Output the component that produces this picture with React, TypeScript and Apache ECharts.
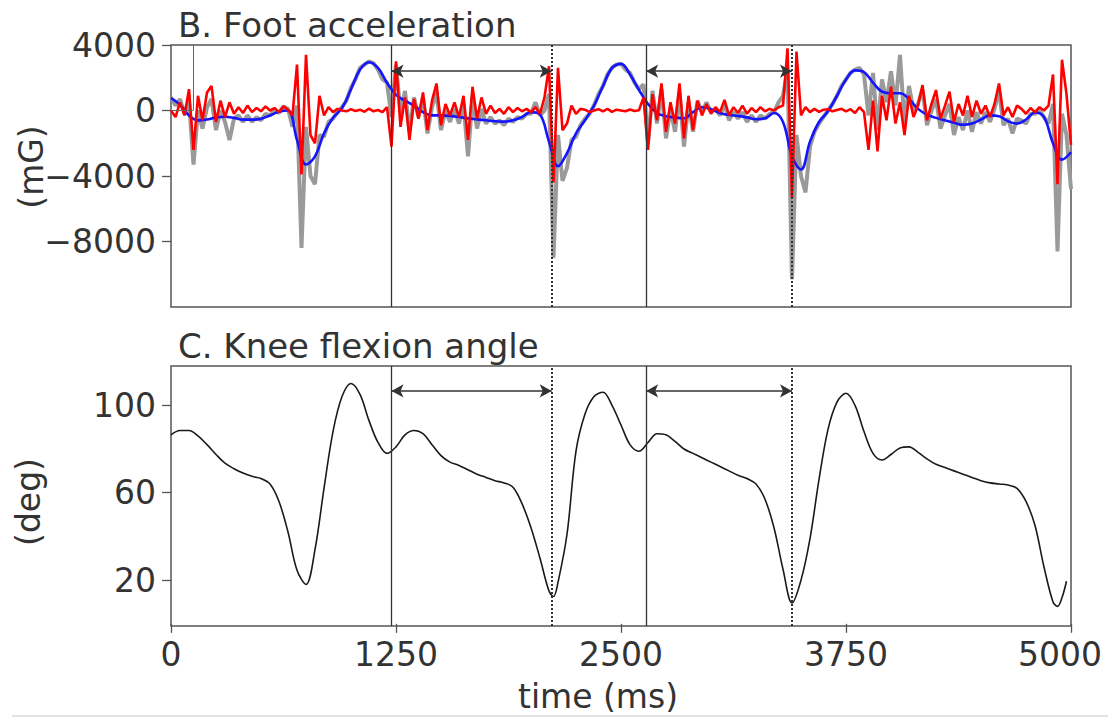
import React, { useEffect, useRef } from "react";
import * as echarts from "echarts";

const FONT = "'DejaVu Sans', sans-serif";

const titleTop = "B. Foot acceleration";
const titleBottom = "C. Knee flexion angle";
const accUnit = "(mG)";
const angleUnit = "(deg)";
const timeLabel = "time (ms)";

const accTickValues = [4000, 0, -4000, -8000];
const angleTickValues = [100, 60, 20];
const timeInterval = 1250;

// event markers (ms)
const heelLines = [1225, 2640];
const toeLines = [2115, 3450];
const strideSpans: [number, number][] = [[1225, 2115], [2640, 3450]];
const accArrowLevel = 2400;
const angleArrowLevel = 106.6;

// raw foot acceleration (grey)
const rawAcc: [number, number][] = [
  [0, 800], [25, 300], [50, 700], [75, -200], [100, 600], [125, -3300], [150, 0], [175, -1100], [200, 200], [225, 700],
  [250, -1200], [275, 0], [300, -700], [325, -1800], [350, -500], [375, -300], [400, -700], [425, -300], [450, -700], [475, -400],
  [500, -600], [525, -200], [550, -300], [575, 0], [600, -150], [625, 250], [650, 100], [675, -1000], [700, 300], [725, -8400],
  [750, -1000], [775, -4000], [800, -4500], [825, -1500], [850, -1600], [875, -700], [900, -500], [925, -100], [950, 200], [975, 600],
  [1000, 1400], [1025, 1900], [1050, 2600], [1075, 2800], [1100, 3000], [1125, 2900], [1150, 2500], [1175, 1900], [1200, 1700], [1225, -400],
  [1250, 2800], [1275, -200], [1300, 1200], [1325, -1300], [1350, 800], [1375, -400], [1400, 800], [1425, -1400], [1450, 200], [1475, 1100],
  [1500, -1200], [1525, 0], [1550, -700], [1575, 100], [1600, -800], [1625, 400], [1650, -2800], [1675, 800], [1700, -1100], [1725, 100],
  [1750, -800], [1775, -400], [1800, -800], [1825, -600], [1850, -900], [1875, -500], [1900, -700], [1925, -400], [1950, -500], [1975, -200],
  [2000, -200], [2025, 500], [2050, -300], [2075, 0], [2100, 1000], [2125, -9000], [2150, -1500], [2175, -4300], [2200, -3500], [2225, -1800],
  [2250, -1600], [2275, -900], [2300, -500], [2325, -200], [2350, 300], [2375, 1000], [2400, 1500], [2425, 2200], [2450, 2600], [2475, 2800],
  [2500, 2850], [2525, 2500], [2550, 2300], [2575, 1700], [2600, 1300], [2625, 1600], [2650, -2000], [2675, 1200], [2700, -800], [2725, 1300],
  [2750, -1700], [2775, 100], [2800, -1300], [2825, 1100], [2850, -2200], [2875, 500], [2900, -1300], [2925, 600], [2950, -100], [2975, 500],
  [3000, -100], [3025, 100], [3050, -300], [3075, 400], [3100, -600], [3125, -100], [3150, -500], [3175, -100], [3200, -700], [3225, -300],
  [3250, -700], [3275, -300], [3300, -500], [3325, -200], [3350, -100], [3375, 500], [3400, 900], [3425, 2500], [3450, -10300], [3475, -1500],
  [3500, -4000], [3525, -5000], [3550, -2200], [3575, -1300], [3600, -800], [3625, -400], [3650, 0], [3675, 400], [3700, 900], [3725, 1500],
  [3750, 1900], [3775, 2300], [3800, 2500], [3825, 2600], [3850, 2200], [3875, -300], [3900, 2300], [3925, -1200], [3950, 1900], [3975, 500],
  [4000, 2400], [4025, 300], [4050, 3400], [4075, -800], [4100, 1500], [4125, 0], [4150, 400], [4175, 1300], [4200, -900], [4225, 0],
  [4250, 700], [4275, -1100], [4300, -300], [4325, 400], [4350, -1500], [4375, -400], [4400, -1200], [4425, 0], [4450, -1300], [4475, -100],
  [4500, -800], [4525, -100], [4550, -700], [4575, 100], [4600, 1200], [4625, -900], [4650, -500], [4675, -1400], [4700, -500], [4725, -600],
  [4750, -800], [4775, -200], [4800, -200], [4825, 0], [4850, -400], [4875, -800], [4900, 400], [4925, -8600], [4950, -200], [4975, -1500],
  [5000, -4800],
];

// low-pass foot acceleration (blue)
const smoothAcc: [number, number][] = [
  [0, 750], [50, 350], [100, -300], [150, -600], [200, -550], [250, -420], [300, -380], [350, -450], [400, -560], [450, -560],
  [500, -500], [550, -300], [600, -80], [650, 0], [700, -1800], [750, -3300], [800, -2800], [850, -1400], [900, -450], [950, 150],
  [1000, 1300], [1050, 2500], [1100, 2950], [1150, 2600], [1200, 1700], [1250, 950], [1300, 600], [1350, 300], [1400, -100], [1450, -300],
  [1500, -300], [1550, -330], [1600, -400], [1650, -480], [1700, -540], [1750, -600], [1800, -660], [1850, -680], [1900, -600], [1950, -400],
  [2000, -100], [2050, -250], [2100, -1900], [2150, -3400], [2200, -2600], [2250, -1400], [2300, -600], [2350, 300], [2400, 1500], [2450, 2600],
  [2500, 2850], [2550, 2200], [2600, 1250], [2650, 400], [2700, -150], [2750, -350], [2800, -430], [2850, -470], [2900, -100], [2950, 200],
  [3000, 80], [3050, -150], [3100, -280], [3150, -330], [3200, -420], [3250, -530], [3300, -480], [3350, -150], [3400, -700], [3450, -2800],
  [3500, -3600], [3550, -1900], [3600, -700], [3650, -50], [3700, 900], [3750, 1900], [3800, 2450], [3850, 2350], [3900, 1700], [3950, 1150],
  [4000, 1050], [4050, 1050], [4100, 700], [4150, 100], [4200, -250], [4250, -450], [4300, -600], [4350, -750], [4400, -870], [4450, -800],
  [4500, -550], [4550, -300], [4600, -350], [4650, -650], [4700, -800], [4750, -550], [4800, -120], [4850, -400], [4900, -2000], [4950, -3000],
  [5000, -2550],
];

// high-pass foot acceleration (red)
const hpAcc: [number, number][] = [
  [0, 0], [25, -400], [50, 500], [75, -300], [100, 1300], [125, -2400], [150, 900], [175, -600], [200, 1100], [225, 1500],
  [250, -700], [275, 600], [300, -400], [325, 500], [350, -200], [375, 200], [400, -150], [425, 300], [450, -100], [475, 150],
  [500, -50], [525, 250], [550, 0], [575, 150], [600, -100], [625, 250], [650, 50], [675, -300], [700, 2800], [725, -3900],
  [750, 3400], [775, -1500], [800, -2000], [825, 900], [850, -300], [875, 200], [900, -100], [925, 100], [950, 0], [975, -50],
  [1000, 80], [1025, -30], [1050, 50], [1075, -80], [1100, 120], [1125, -50], [1150, 30], [1175, -100], [1200, 200], [1225, -2200],
  [1250, 3000], [1275, -1000], [1300, 800], [1325, -1800], [1350, 700], [1375, -500], [1400, 1100], [1425, -1200], [1450, 600], [1475, 1650],
  [1500, -900], [1525, 400], [1550, -300], [1575, 500], [1600, -400], [1625, 900], [1650, -1800], [1675, 1450], [1700, -500], [1725, 800],
  [1750, -200], [1775, 300], [1800, -150], [1825, 100], [1850, -200], [1875, 200], [1900, -100], [1925, 150], [1950, -50], [1975, 100],
  [2000, -100], [2025, 200], [2050, -200], [2075, 800], [2100, 2700], [2125, -4400], [2150, 2600], [2175, -1200], [2200, -800], [2225, 300],
  [2250, -200], [2275, 100], [2300, 50], [2325, -100], [2350, 0], [2375, 80], [2400, -50], [2425, 100], [2450, -80], [2475, 50],
  [2500, 0], [2525, -50], [2550, 60], [2575, -30], [2600, 20], [2625, 800], [2650, -2400], [2675, 1000], [2700, -600], [2725, 1650],
  [2750, -1300], [2775, 500], [2800, -800], [2825, 1650], [2850, -1700], [2875, 900], [2900, -1200], [2925, 600], [2950, -300], [2975, 400],
  [3000, -200], [3025, 200], [3050, -100], [3075, 650], [3100, -300], [3125, 200], [3150, -150], [3175, 300], [3200, -200], [3225, 150],
  [3250, -100], [3275, 200], [3300, -50], [3325, 100], [3350, 0], [3375, 200], [3400, 300], [3425, 3800], [3450, -5300], [3475, 3600],
  [3500, -300], [3525, 200], [3550, -100], [3575, 100], [3600, -80], [3625, 50], [3650, 80], [3675, -50], [3700, 30], [3725, 100],
  [3750, -50], [3775, 80], [3800, -150], [3825, 200], [3850, -100], [3875, -2400], [3900, 600], [3925, -2500], [3950, 900], [3975, -600],
  [4000, 1450], [4025, -800], [4050, 500], [4075, -1500], [4100, 900], [4125, -400], [4150, 300], [4175, 1550], [4200, -600], [4225, 400],
  [4250, 1250], [4275, -500], [4300, 300], [4325, 1150], [4350, -700], [4375, 400], [4400, -300], [4425, 900], [4450, -400], [4475, 600],
  [4500, -200], [4525, 300], [4550, -400], [4575, 400], [4600, 1650], [4625, -300], [4650, 200], [4675, -400], [4700, 300], [4725, 100],
  [4750, -200], [4775, 150], [4800, -100], [4825, 200], [4850, 0], [4875, 300], [4900, 2200], [4925, -4500], [4950, 3100], [4975, 1000],
  [5000, -2100],
];

// knee flexion angle (deg)
const kneeAngle: [number, number][] = [
  [0, 86.5], [50, 88.5], [100, 88.5], [150, 86], [200, 82], [250, 77.5], [300, 73.5], [350, 71], [400, 69], [450, 67.5],
  [500, 66.5], [550, 64], [600, 56], [650, 42], [700, 24.5], [750, 18], [800, 34], [850, 62], [900, 88], [950, 104],
  [1000, 110], [1050, 105], [1100, 93], [1150, 83], [1200, 78], [1250, 81], [1300, 86.5], [1350, 88.5], [1400, 87], [1450, 82],
  [1500, 77], [1550, 74], [1600, 72.5], [1650, 70.5], [1700, 68.5], [1750, 67], [1800, 65.5], [1850, 64.5], [1900, 62.5], [1950, 55],
  [2000, 44], [2050, 30], [2100, 15], [2125, 12.5], [2150, 19], [2200, 41], [2250, 79], [2300, 96], [2350, 104], [2400, 106], [2450, 100],
  [2500, 91], [2550, 82], [2600, 79], [2650, 83], [2700, 87], [2750, 86.5], [2800, 83.5], [2850, 80], [2900, 78], [2950, 76],
  [3000, 74], [3050, 72], [3100, 70], [3150, 68], [3200, 66.5], [3250, 64], [3300, 57], [3350, 44], [3400, 25], [3450, 9.5],
  [3500, 20], [3550, 39], [3600, 66], [3650, 89], [3700, 101.5], [3750, 105.5], [3800, 100], [3850, 88], [3900, 78], [3950, 75],
  [4000, 77.5], [4050, 80.5], [4100, 81], [4150, 78.5], [4200, 75.5], [4250, 73], [4300, 71.5], [4350, 70], [4400, 68.5], [4450, 67],
  [4500, 65.5], [4550, 64.5], [4600, 64], [4650, 63.5], [4700, 62], [4750, 56], [4800, 45], [4850, 26], [4900, 10], [4925, 8],
  [4950, 12], [4975, 19.5],
];

const TEXT = "#333";
const AX = "#555";

function eventLines(withBracket: boolean) {
  const data: any[] = [];
  heelLines.forEach((t) => data.push({ xAxis: t, lineStyle: { type: "solid", width: 1.3, color: "#333" } }));
  toeLines.forEach((t) => data.push({ xAxis: t, lineStyle: { type: "dotted", width: 2, color: "#333" } }));
  if (withBracket) {
    data.push([{ coord: [122, 4000] }, { coord: [122, 0] }]);
    data.push([{ coord: [0, 0] }, { coord: [122, 0] }]);
  }
  return {
    silent: true,
    symbol: "none",
    label: { show: false },
    emphasis: { disabled: true },
    lineStyle: { color: "#666", width: 1, type: "solid" },
    data,
  };
}

function arrowLines(level: number) {
  return {
    silent: true,
    symbol: ["arrow", "arrow"],
    symbolSize: [10, 12],
    label: { show: false },
    emphasis: { disabled: true },
    lineStyle: { color: "#333", width: 1.6, type: "solid" },
    data: strideSpans.map(([a, b]) => [{ coord: [a, level] }, { coord: [b, level] }]),
  };
}

export default function App() {
  const ref = useRef<HTMLDivElement>(null);
  useEffect(() => {
    document.body.style.margin = "0";
    if (!ref.current) return;
    const chart = echarts.init(ref.current, null, { renderer: "svg" });
    const tickLabel = { fontSize: 33, color: TEXT, fontFamily: FONT };
    const option: any = {
      animation: false,
      backgroundColor: "#fff",
      textStyle: { fontFamily: FONT },
      grid: [
        { left: 171, right: 37, top: 45, height: 262, show: true, borderColor: AX, borderWidth: 1.5, backgroundColor: "transparent", outerBoundsMode: "none" },
        { left: 171, right: 37, top: 366, height: 260, show: true, borderColor: AX, borderWidth: 1.5, backgroundColor: "transparent", outerBoundsMode: "none" },
      ],
      xAxis: [
        {
          type: "value", gridIndex: 0, min: 0, max: 5000, interval: timeInterval,
          axisLine: { show: false }, axisTick: { show: false }, axisLabel: { show: false }, splitLine: { show: false },
        },
        {
          type: "value", gridIndex: 1, min: 0, max: 5000, interval: timeInterval,
          axisLine: { show: false },
          axisTick: { show: true, length: 9, lineStyle: { color: AX, width: 1.3 } },
          axisLabel: {
            ...tickLabel, margin: 12,
            formatter: (v: number) => (v === 5000 ? "{r|5000}" : String(v)),
            rich: { r: { ...tickLabel, padding: [0, 22, 0, 0] } },
          },
          splitLine: { show: false },
        },
      ],
      yAxis: [
        {
          type: "value", gridIndex: 0, min: -12000, max: 4000, interval: 4000,
          axisLine: { show: false },
          axisTick: { show: true, length: 9, customValues: accTickValues, lineStyle: { color: AX, width: 1.3 } },
          axisLabel: {
            ...tickLabel, margin: 15, customValues: accTickValues,
            formatter: (v: number) => (v < 0 ? "\u2212" + Math.abs(v) : String(v)),
          },
          splitLine: { show: false },
        },
        {
          type: "value", gridIndex: 1, min: -1, max: 118,
          axisLine: { show: false },
          axisTick: { show: true, length: 9, customValues: angleTickValues, lineStyle: { color: AX, width: 1.3 } },
          axisLabel: { ...tickLabel, margin: 15, customValues: angleTickValues },
          splitLine: { show: false },
        },
      ],
      series: [
        {
          name: "raw", type: "line", xAxisIndex: 0, yAxisIndex: 0, data: rawAcc, symbol: "none", z: 2,
          lineStyle: { color: "#9a9a9a", width: 4 }, itemStyle: { color: "#9a9a9a" },
        },
        {
          name: "low-pass", type: "line", xAxisIndex: 0, yAxisIndex: 0, data: smoothAcc, symbol: "none", smooth: 0.4, z: 3,
          lineStyle: { color: "#1414ff", width: 2.6 }, itemStyle: { color: "#1414ff" },
        },
        {
          name: "high-pass", type: "line", xAxisIndex: 0, yAxisIndex: 0, data: hpAcc, symbol: "none", z: 4,
          lineStyle: { color: "#ff0000", width: 2.6 }, itemStyle: { color: "#ff0000" },
        },
        { name: "eventsTop", type: "line", xAxisIndex: 0, yAxisIndex: 0, data: [], z: 5, markLine: eventLines(true) },
        { name: "arrowsTop", type: "line", xAxisIndex: 0, yAxisIndex: 0, data: [], z: 5, markLine: arrowLines(accArrowLevel) },
        {
          name: "knee", type: "line", xAxisIndex: 1, yAxisIndex: 1, data: kneeAngle, symbol: "none", smooth: 0.35, z: 3,
          lineStyle: { color: "#1a1a1a", width: 1.6 }, itemStyle: { color: "#1a1a1a" },
        },
        { name: "eventsBottom", type: "line", xAxisIndex: 1, yAxisIndex: 1, data: [], z: 5, markLine: eventLines(false) },
        { name: "arrowsBottom", type: "line", xAxisIndex: 1, yAxisIndex: 1, data: [], z: 5, markLine: arrowLines(angleArrowLevel) },
      ],
      graphic: [
        { type: "text", x: 178, y: 25, style: { text: titleTop, fontSize: 34, fontFamily: FONT, fill: TEXT, align: "left", verticalAlign: "middle" } },
        { type: "text", x: 178, y: 346, style: { text: titleBottom, fontSize: 34, fontFamily: FONT, fill: TEXT, align: "left", verticalAlign: "middle" } },
        { type: "text", x: 31, y: 167, rotation: Math.PI / 2, style: { text: accUnit, fontSize: 33, fontFamily: FONT, fill: TEXT, align: "center", verticalAlign: "middle" } },
        { type: "text", x: 28, y: 502, rotation: Math.PI / 2, style: { text: angleUnit, fontSize: 33, fontFamily: FONT, fill: TEXT, align: "center", verticalAlign: "middle" } },
        { type: "text", x: 598, y: 696, style: { text: timeLabel, fontSize: 33, fontFamily: FONT, fill: TEXT, align: "center", verticalAlign: "middle" } },
        { type: "line", shape: { x1: 12, y1: 716, x2: 1108, y2: 716 }, style: { stroke: "#e2e2e2", lineWidth: 2 } },
      ],
    };
    chart.setOption(option);
    return () => chart.dispose();
  }, []);
  return <div ref={ref} style={{ width: 1108, height: 718 }} />;
}
